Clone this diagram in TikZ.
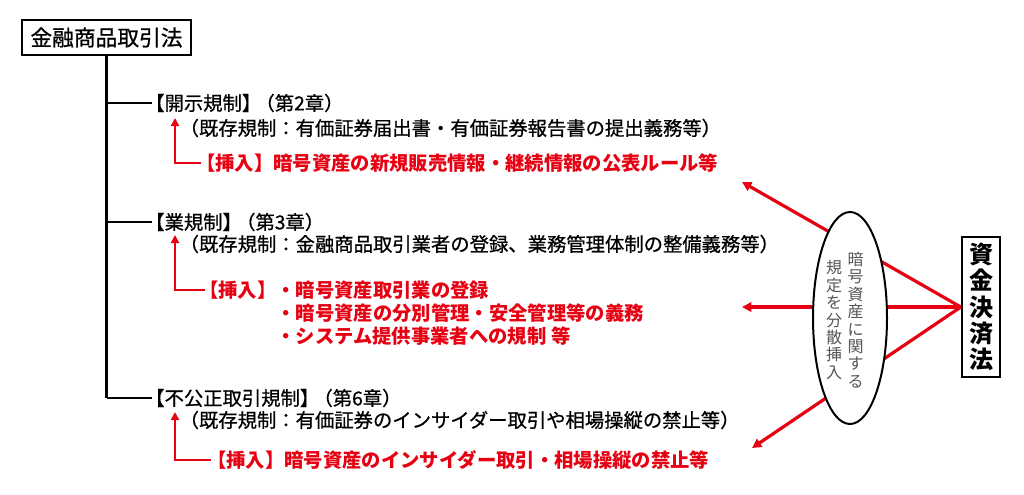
\documentclass[tikz,border=0pt]{standalone}
\usepackage{fontspec}
\newfontfamily\jp{Noto Sans CJK JP}
\newfontfamily\jpm[FakeBold=0.7]{Noto Sans CJK JP}
\usetikzlibrary{arrows.meta,shapes.geometric}
\definecolor{myred}{RGB}{230,0,18}
\definecolor{mygray}{RGB}{85,85,85}
\newcommand{\bk}{\kern-0.3em}
\begin{document}
\begin{tikzpicture}[x=0.75pt,y=-0.75pt,
  txt/.style={anchor=west,inner sep=0pt,font=\jpm\fontsize{14.5}{17}\selectfont},
  rtxt/.style={anchor=west,inner sep=0pt,text=myred,font=\jp\bfseries\fontsize{14.5}{17}\selectfont},
  hdr/.style={draw,line width=1.8pt,inner sep=0pt,minimum width=126.75pt,minimum height=26.25pt,font=\jpm\fontsize{16.3}{18}\selectfont},
  kbox/.style={draw,line width=1.8pt,inner sep=0pt,minimum width=28.5pt,minimum height=105pt,align=center,font=\jp\bfseries\fontsize{18}{19.7}\selectfont},
  vtxt/.style={inner sep=0pt,align=center,text=mygray,font=\jp\fontsize{12}{13.1}\selectfont},
  tree/.style={line width=1.6pt},
  trunk/.style={line width=2.2pt},
  rline/.style={draw=myred,line width=2.4pt,-{Triangle[length=7pt,width=7pt]}},
  rbend/.style={draw=myred,line width=2.2pt,-{Triangle[length=6pt,width=6pt]}},
  oval/.style={ellipse,draw,line width=1.5pt,fill=white,minimum width=55.5pt,minimum height=159pt,inner sep=0pt}
]
\useasboundingbox (0,0) rectangle (1024,494);

% left tree
\node[hdr] (fin) at (106.5,37.5) {金融商品取引法};

\node[txt] (b1) at (145,103) {【開示規制】\bk（第2章）};
\node[txt] (e1) at (179.4,128) {（既存規制：有価証券届出書・有価証券報告書の提出義務等）};
\node[rtxt] (r1) at (196,163) {【挿入】暗号資産の新規販売情報・継続情報の公表ルール等};

\node[txt] (b2) at (145,222) {【業規制】\bk（第3章）};
\node[txt] (e2) at (179.4,244) {（既存規制：金融商品取引業者の登録、業務管理体制の整備義務等）};
\node[rtxt] (r2a) at (199,290) {【挿入】・暗号資産取引業の登録};
\node[rtxt] (r2b) at (276.3,313) {・暗号資産の分別管理・安全管理等の義務};
\node[rtxt] (r2c) at (276.3,336) {・システム提供事業者への規制 等};

\node[txt] (b3) at (145,398) {【不公正取引規制】\bk（第6章）};
\node[txt] (e3) at (179.4,420) {（既存規制：有価証券のインサイダー取引や相場操縦の禁止等）};
\node[rtxt] (r3) at (207,460) {【挿入】暗号資産のインサイダー取引・相場操縦の禁止等};

\coordinate (b1e) at (152,103);
\coordinate (b2e) at (152,222);
\coordinate (b3e) at (152,398);
\draw[trunk] (fin.south) -- (fin.south |- b3e);
\draw[tree] (fin.south |- b3e) -- (b3e);
\draw[tree] (fin.south |- b1e) -- (b1e);
\draw[tree] (fin.south |- b2e) -- (b2e);

\coordinate (t1) at (175,118);
\coordinate (t2) at (175,235);
\coordinate (t3) at (175,412);
\coordinate (s1) at (201,163);
\coordinate (s2) at (205,290);
\coordinate (s3) at (211,460);
\draw[rbend] (s1) -| (t1);
\draw[rbend] (s2) -| (t2);
\draw[rbend] (s3) -| (t3);

% right side
\node[kbox] (kes) at (981,307) {資\\金\\決\\済\\法};
\coordinate (a1) at (742,182);
\coordinate (a2) at (742,307);
\coordinate (a3) at (752,448);
\draw[rline] (kes.west) -- (a1);
\draw[rline] (kes.west) -- (a2);
\draw[rline] (kes.west) -- (a3);

\node[oval] (ov) at (850,318) {};
\node[vtxt] (g1) at (855.5,320) {暗\\号\\資\\産\\に\\関\\す\\る};
\node[vtxt] (g2) at (834,320) {規\\定\\を\\分\\散\\挿\\入};
\end{tikzpicture}
\end{document}
